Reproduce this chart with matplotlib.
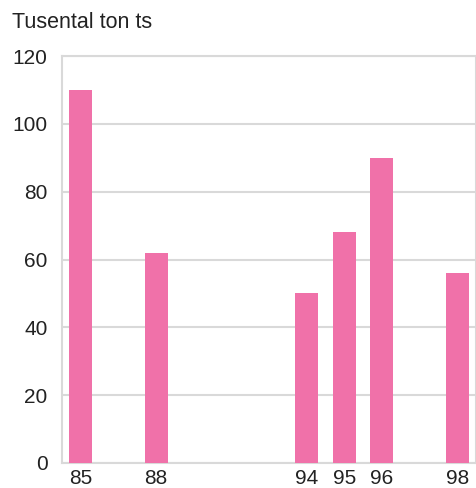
import matplotlib
matplotlib.use("Agg")
import matplotlib.pyplot as plt

plt.rcParams['font.family'] = ['Liberation Sans', 'DejaVu Sans']

categories = ["85", "", "88", "", "", "", "94", "95", "96", "", "98"]
values = [110, None, 62, None, None, None, 50, 68, 90, None, 56]
yticks = [0, 20, 40, 60, 80, 100, 120]
ylabel_text = "Tusental ton ts"

bar_color = "#F071A9"
grid_color = "#D9D9D9"

fig = plt.figure(figsize=(4.77, 4.88), dpi=100)
ax = fig.add_axes([62/477, 1-463/488, (476-62)/477, (463-56)/488])

xs = [i for i, v in enumerate(values) if v is not None]
hs = [v for v in values if v is not None]
ax.bar(xs, hs, width=0.61, color=bar_color, zorder=3)

ax.set_xlim(-0.5, len(categories) - 0.5)
ax.set_ylim(0, 120)
ax.set_yticks(yticks)
ax.set_yticklabels([str(t) for t in yticks])
ax.set_xticks(range(len(categories)))
ax.set_xticklabels(categories)
ax.tick_params(axis='both', length=0, labelsize=15, colors='#222222')
ax.tick_params(axis='y', pad=10.5)
ax.tick_params(axis='x', pad=4)
ax.grid(axis='y', color=grid_color, linewidth=1.5, zorder=0)
for s in ax.spines.values():
    s.set_color(grid_color)
    s.set_linewidth(1.5)

fig.text(12/477, 1-23/488, ylabel_text, fontsize=15.5, color='#222222', va='center', ha='left')

fig.savefig("out.png", dpi=100)
